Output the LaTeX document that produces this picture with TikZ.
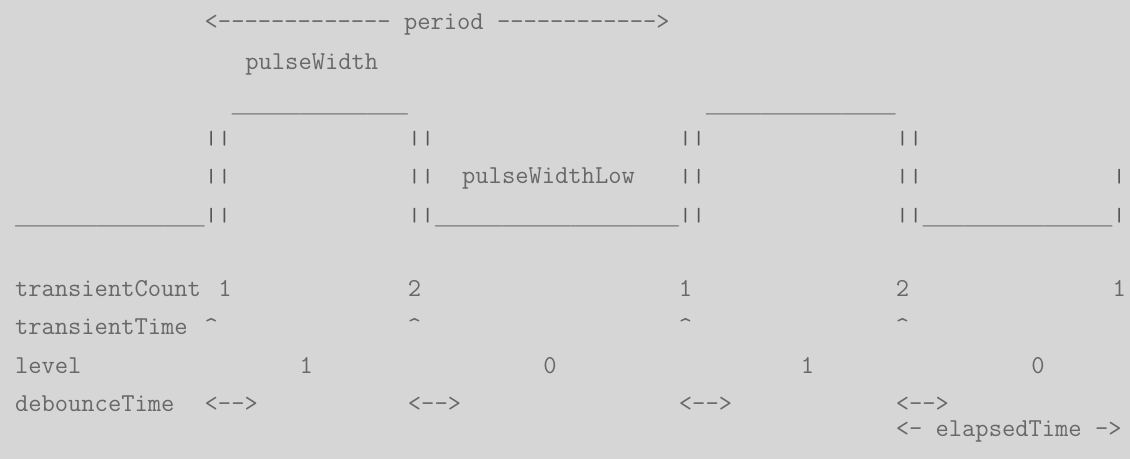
\documentclass[tikz,border=0pt]{standalone}
\usepackage{fontspec}
\usepackage{graphicx}
\newfontfamily\usfont{Liberation Mono}
\definecolor{bg}{HTML}{D6D6D6}
\definecolor{ink}{HTML}{686868}
\definecolor{barink}{HTML}{555555}
\newcommand\tok[4]{\node[txt] (#1) at ({15+13.55*(#2)},#3) {#4};}
\newcommand\us[4]{\node[txt,font=\usfont\fontsize{11.29pt}{13pt}\selectfont] (#1) at ({15+13.55*(#2)},#3) {#4};}
\newcommand\vb{\textcolor{barink}{\scalebox{1}[0.74]{|}}}
\begin{document}
\begin{tikzpicture}[x=0.5pt,y=-0.5pt,
  txt/.style={anchor=base west, inner sep=0pt, outer sep=0pt, text=ink,
    font=\ttfamily\fontsize{12.9pt}{14pt}\selectfont}]
\fill[bg] (0,0) rectangle (1130,459);
\useasboundingbox (0,0) rectangle (1130,459);
% row 0
\tok{period}{14}{30}{<------------- period ------------>}
% row 1
\tok{pw}{17}{70}{pulseWidth}
% row 2
\us{hiA}{16}{113}{\_\_\_\_\_\_\_\_\_\_\_\_\_}
\us{hiB}{51}{113}{\_\_\_\_\_\_\_\_\_\_\_\_\_\_}
% row 3
\tok{eA3}{14}{144.5}{\vb\vb}
\tok{eB3}{29}{144.5}{\vb\vb}
\tok{eC3}{49}{144.5}{\vb\vb}
\tok{eD3}{65}{144.5}{\vb\vb}
% row 4
\tok{eA4}{14}{182.5}{\vb\vb}
\tok{eB4}{29}{182.5}{\vb\vb}
\tok{pwl}{33}{183.4}{pulseWidthLow}
\tok{eC4}{49}{182.5}{\vb\vb}
\tok{eD4}{65}{182.5}{\vb\vb}
\tok{eE4}{81}{182.5}{\vb}
% row 5
\us{loA}{0}{225}{\_\_\_\_\_\_\_\_\_\_\_\_\_\_}
\tok{eA5}{14}{221.5}{\vb\vb}
\tok{eB5}{29}{221.5}{\vb\vb}
\us{loB}{31}{225}{\_\_\_\_\_\_\_\_\_\_\_\_\_\_\_\_\_\_}
\tok{eC5}{49}{221.5}{\vb\vb}
\tok{eD5}{65}{221.5}{\vb\vb}
\us{loC}{67}{225}{\_\_\_\_\_\_\_\_\_\_\_\_\_\_}
\tok{eE5}{81}{221.5}{\vb}
% row 7
\tok{tcL}{0}{296.5}{transientCount}
\tok{tcA}{15}{296.5}{1}
\tok{tcB}{29}{296.5}{2}
\tok{tcC}{49}{296.5}{1}
\tok{tcD}{65}{296.5}{2}
\tok{tcE}{81}{296.5}{1}
% row 8
\tok{ttL}{0}{335}{transientTime}
\tok{ttA}{14}{335}{\string^}
\tok{ttB}{29}{335}{\string^}
\tok{ttC}{49}{335}{\string^}
\tok{ttD}{65}{335}{\string^}
% row 9
\tok{lvL}{0}{373.4}{level}
\tok{lvA}{21}{373.4}{1}
\tok{lvB}{39}{373.4}{0}
\tok{lvC}{58}{373.4}{1}
\tok{lvD}{75}{373.4}{0}
% row 10
\tok{dbL}{0}{411.8}{debounceTime}
\tok{dbA}{14}{411.8}{<-->}
\tok{dbB}{29}{411.8}{<-->}
\tok{dbC}{49}{411.8}{<-->}
\tok{dbD}{65}{411.8}{<-->}
% row 11
\tok{el}{65}{436.5}{<- elapsedTime ->}
\end{tikzpicture}
\end{document}
